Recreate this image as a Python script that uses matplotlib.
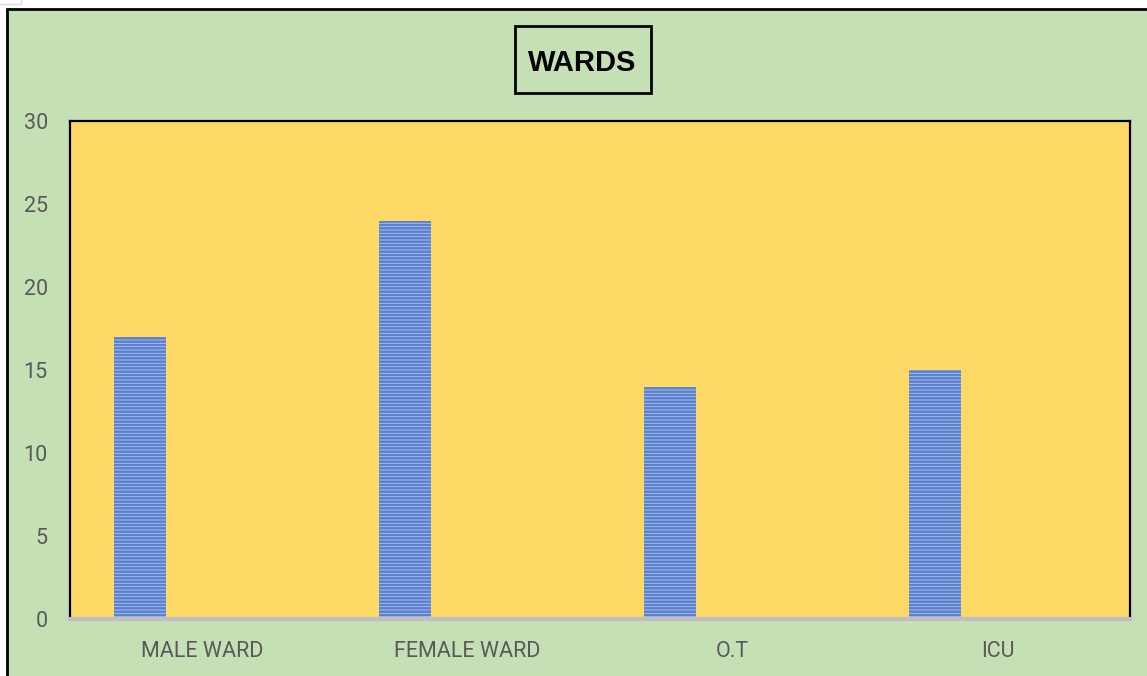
import numpy as np
import matplotlib
matplotlib.use("Agg")
import matplotlib.pyplot as plt
from matplotlib.patches import Rectangle

wards = ["MALE WARD", "FEMALE WARD", "O.T", "ICU"]
counts = [17, 24, 14, 15]
y_ticks = [0, 5, 10, 15, 20, 25, 30]

plt.rcParams["hatch.linewidth"] = 1.8

W, H = 1147, 676
fig = plt.figure(figsize=(W / 100, H / 100), dpi=100)
fig.patch.set_facecolor("white")

# green chart area with black frame (runs off the right and bottom edges)
fig.patches.append(Rectangle((7 / W, -0.1), 1.2, (H - 9) / H + 0.1,
                             transform=fig.transFigure, facecolor="#c5e0b4",
                             edgecolor="black", linewidth=2, zorder=-5))
fig.patches.append(Rectangle((-0.01, 1 - 4 / H), 32 / W, 0.02,
                             transform=fig.transFigure, facecolor="white",
                             edgecolor="#d9d9d9", linewidth=1, zorder=-5))

ax = fig.add_axes([70 / W, (H - 619) / H, (1130 - 70) / W, (619 - 121) / H])
ax.set_facecolor("#ffd966")

x = np.arange(len(wards))
ax.bar(x - 0.235, counts, width=0.197, facecolor="#b3c6ec",
       edgecolor="#5a80d0", hatch="-----", linewidth=0, zorder=2)

ax.set_xlim(-0.5, len(wards) - 0.5)
ax.set_ylim(0, 30)
ax.set_yticks(y_ticks)
ax.set_xticks(x)
ax.set_xticklabels(wards)

label_font = ["Roboto", "DejaVu Sans"]
for lab in ax.get_xticklabels() + ax.get_yticklabels():
    lab.set_family(label_font)
    lab.set_fontsize(15.5)
    lab.set_color("#595959")
ax.tick_params(axis="both", length=0)
ax.tick_params(axis="y", pad=16)
ax.tick_params(axis="x", pad=16)

for side in ["left", "top", "right"]:
    ax.spines[side].set_color("black")
    ax.spines[side].set_linewidth(1.6)
ax.spines["bottom"].set_color("#bfbfbf")
ax.spines["bottom"].set_linewidth(3)

# boxed title
fig.patches.append(Rectangle((515 / W, 1 - 93 / H), 136 / W, 67 / H,
                             transform=fig.transFigure, facecolor="none",
                             edgecolor="black", linewidth=2, zorder=3))
fig.text(582 / W, 1 - 63 / H, "WARDS", ha="center", va="center",
         fontsize=21, fontweight="bold", family=["Liberation Sans", "DejaVu Sans"],
         color="black")

fig.savefig("out.png", dpi=100)
